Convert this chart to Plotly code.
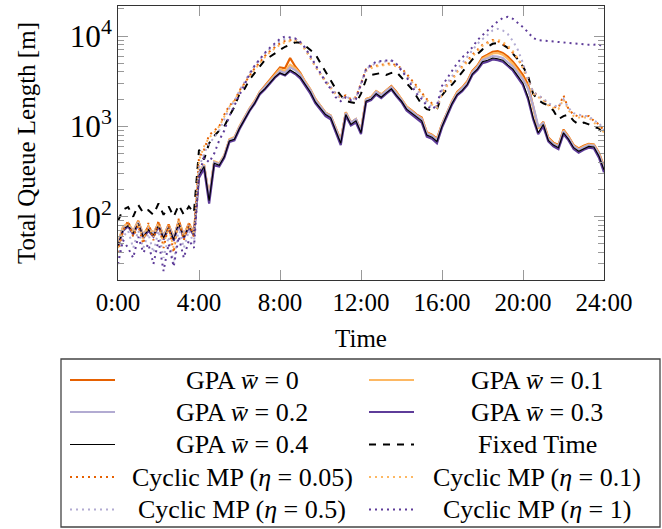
import plotly.graph_objects as go

# ---------------- data (15-minute samples, 0:00 .. 24:00) ----------------
hours = [i * 0.25 for i in range(97)]
tick_hours = [0, 4, 8, 12, 16, 20, 24]
tick_labels = ["0:00", "4:00", "8:00", "12:00", "16:00", "20:00", "24:00"]

gpa_00 = [50, 76, 85, 68, 90, 62, 78, 64, 86, 60, 82, 58, 90, 62, 84, 66,
          300, 370, 160, 400, 380, 470, 710, 750, 990, 1250, 1570, 1900, 2400, 2800, 3300, 3800,
          4500, 4400, 5700, 4600, 3900, 3100, 2550, 2000, 1700, 1420, 1320, 950, 700, 1430, 1100, 1200,
          900, 2000, 2100, 2450, 2250, 2500, 2800, 2400, 2000, 1650, 1500, 1350, 1250, 860, 810, 730,
          1060, 1430, 1900, 2400, 2700, 3150, 4100, 4700, 5800, 6200, 6700, 6800, 6500, 5900, 5200, 4400,
          3700, 2900, 1700, 950, 1120, 750, 660, 620, 920, 770, 620, 570, 610, 640, 630, 510,
          360]
gpa_01 = [52, 78, 84, 70, 88, 64, 76, 66, 84, 62, 80, 60, 88, 64, 82, 68,
          310, 380, 165, 410, 390, 480, 720, 760, 1000, 1260, 1580, 1900, 2400, 2750, 3200, 3700,
          4300, 4100, 4800, 4400, 3800, 3100, 2550, 2000, 1700, 1420, 1320, 950, 700, 1420, 1100, 1200,
          900, 2000, 2100, 2450, 2250, 2500, 2750, 2350, 2000, 1650, 1480, 1320, 1220, 850, 800, 720,
          1050, 1420, 1900, 2350, 2650, 3100, 4000, 4600, 5600, 6000, 6400, 6500, 6200, 5600, 4900, 4100,
          3400, 2700, 1600, 950, 1100, 740, 650, 610, 900, 760, 610, 560, 600, 630, 620, 500,
          350]
gpa_02 = [50, 74, 82, 68, 86, 62, 74, 64, 82, 60, 78, 58, 86, 62, 80, 66,
          300, 370, 160, 400, 380, 470, 700, 740, 980, 1230, 1550, 1850, 2350, 2700, 3100, 3600,
          4100, 3900, 4500, 4200, 3700, 3000, 2500, 1950, 1650, 1400, 1300, 930, 680, 1400, 1100, 1200,
          880, 1950, 2050, 2400, 2200, 2450, 2700, 2300, 1950, 1600, 1450, 1300, 1200, 830, 790, 700,
          1030, 1400, 1850, 2300, 2600, 3000, 3900, 4500, 5400, 5700, 6000, 5900, 5700, 5100, 4600, 3900,
          3300, 2600, 1700, 1000, 1080, 720, 640, 600, 880, 740, 600, 550, 590, 620, 610, 490,
          340]
gpa_03 = [46, 70, 78, 64, 82, 58, 70, 60, 78, 56, 74, 54, 82, 58, 76, 62,
          270, 340, 140, 370, 360, 450, 670, 700, 930, 1180, 1480, 1780, 2250, 2550, 2950, 3450,
          3850, 3650, 4100, 3800, 3400, 2800, 2300, 1800, 1550, 1300, 1200, 870, 620, 1300, 1020, 1100,
          820, 1850, 1950, 2250, 2050, 2300, 2550, 2150, 1850, 1500, 1350, 1200, 1100, 770, 730, 650,
          970, 1300, 1750, 2200, 2450, 2850, 3700, 4200, 5000, 5200, 5500, 5400, 5200, 4650, 4150, 3450,
          2850, 2000, 1200, 820, 1000, 680, 600, 560, 820, 700, 560, 510, 550, 580, 570, 450,
          310]
gpa_04 = [48, 72, 80, 66, 84, 60, 72, 62, 80, 58, 76, 56, 84, 60, 78, 64,
          290, 360, 150, 390, 370, 460, 690, 720, 950, 1200, 1500, 1800, 2300, 2600, 3000, 3500,
          3900, 3700, 4200, 3900, 3500, 2900, 2400, 1850, 1600, 1350, 1250, 900, 650, 1350, 1050, 1150,
          850, 1900, 2000, 2300, 2100, 2350, 2600, 2200, 1900, 1550, 1400, 1250, 1150, 800, 760, 680,
          1000, 1350, 1800, 2250, 2500, 2900, 3800, 4300, 5200, 5400, 5700, 5600, 5400, 4800, 4300, 3600,
          3000, 2100, 1250, 850, 1050, 700, 620, 580, 850, 720, 580, 530, 570, 600, 590, 470,
          330]
fixed_time = [90, 120, 128, 100, 135, 110, 118, 105, 140, 105, 130, 100, 135, 105, 130, 110,
              550, 430, 650, 780, 900, 1000, 1300, 1650, 2300, 2600, 3300, 3900, 4600, 5400, 5900, 6500,
              7000, 7600, 8000, 8500, 8400, 7800, 7000, 6300, 5000, 4000, 3300, 2600, 2200, 1900, 1850, 1800,
              2300, 3300, 3700, 3800, 3900, 3700, 3900, 4000, 3500, 3000, 2600, 2100, 1750, 1550, 1500, 1550,
              2200, 2600, 2900, 3400, 4000, 4600, 5500, 6300, 7100, 7600, 8200, 8400, 8000, 7400, 6400, 5500,
              4600, 3600, 2300, 1950, 1800, 1700, 1500, 1200, 1300, 1350, 1150, 1050, 1100, 1050, 980, 950,
              800]
cmp_005 = [40, 70, 90, 60, 80, 50, 85, 55, 90, 45, 80, 40, 95, 55, 85, 60,
           450, 550, 800, 900, 1000, 1350, 1700, 1900, 2500, 3000, 3700, 4400, 5100, 6000, 6800, 7500,
           8300, 8800, 9000, 9200, 8500, 7200, 5800, 4600, 3800, 3200, 2700, 2300, 2100, 2200, 2000, 2100,
           3000, 4300, 4600, 4700, 4800, 4900, 5000, 4700, 4400, 3800, 3300, 2800, 2350, 2000, 1800, 1650,
           2300, 2900, 3300, 4100, 4600, 5400, 6200, 7000, 8000, 8500, 9000, 8800, 8200, 7600, 6500, 5600,
           4500, 3200, 2400, 2200, 2000, 1750, 1650, 1600, 2200, 1550, 1350, 1280, 1280, 1300, 1150, 1050,
           900]
cmp_01 = [45, 75, 85, 65, 85, 55, 80, 60, 85, 50, 75, 45, 90, 60, 80, 65,
          420, 600, 750, 850, 1000, 1300, 1650, 1950, 2450, 3000, 3600, 4300, 5000, 5800, 6600, 7300,
          8000, 8500, 8800, 8900, 8300, 7000, 5700, 4500, 3700, 3100, 2600, 2250, 2050, 2100, 1950, 2050,
          2900, 4100, 4400, 4600, 4700, 4800, 4800, 4600, 4300, 3700, 3200, 2700, 2300, 1950, 1750, 1600,
          2250, 2800, 3200, 4000, 4500, 5200, 6000, 6800, 7800, 8300, 8800, 9100, 8600, 7800, 6800, 5600,
          4400, 3100, 2300, 2100, 1950, 1700, 1600, 1550, 2000, 1500, 1300, 1250, 1250, 1250, 1100, 1000,
          850]
cmp_05 = [35, 60, 70, 45, 70, 45, 65, 40, 70, 35, 60, 30, 75, 45, 70, 50,
          350, 500, 650, 750, 900, 1200, 1600, 1900, 2500, 3100, 3900, 4700, 5500, 6400, 7200, 8000,
          8800, 9300, 9500, 9300, 8600, 7300, 5900, 4700, 3800, 3200, 2700, 2300, 2000, 2150, 2000, 2050,
          3000, 4300, 4700, 5000, 5200, 5300, 5300, 4900, 4300, 3600, 3000, 2500, 2150, 1850, 1650, 1650,
          2500, 3000, 3600, 4300, 5000, 5900, 7000, 8200, 9200, 10200, 11500, 12000, 11500, 10500, 8800, 7000,
          5000, 3300, 2400, 2200, 2050, 1800, 1700, 1650, 2000, 1600, 1400, 1350, 1300, 1300, 1150, 1100,
          900]
cmp_1 = [30, 55, 45, 35, 60, 40, 50, 30, 55, 25, 50, 28, 60, 35, 55, 45,
         300, 450, 400, 500, 700, 900, 1300, 1700, 2300, 3000, 3800, 4700, 5600, 6500, 7400, 8300,
         9300, 9900, 9700, 9400, 8600, 7400, 6000, 4800, 3800, 3100, 2600, 2100, 1900, 2100, 1950, 2000,
         2900, 4300, 4800, 5200, 5300, 5400, 5400, 4900, 4200, 3500, 2800, 2300, 2000, 1700, 1550, 1700,
         2800, 3400, 4200, 5000, 5800, 6500, 7500, 9000, 10200, 11500, 13000, 14500, 15800, 16300, 15500, 14000,
         12500, 11000, 9500, 9000, 8900, 8800, 8700, 8600, 8500, 8400, 8200, 8100, 8100, 8000, 8000, 8100,
         7500]

ORANGE_D = "#e66101"
ORANGE_L = "#fdb863"
PURPLE_L = "#b2abd2"
PURPLE_D = "#5e3c99"

series = [
    ("GPA <i>w̄</i> = 0", gpa_00, ORANGE_D, "solid", 2.2),
    ("GPA <i>w̄</i> = 0.1", gpa_01, ORANGE_L, "solid", 2.2),
    ("GPA <i>w̄</i> = 0.2", gpa_02, PURPLE_L, "solid", 2.2),
    ("GPA <i>w̄</i> = 0.3", gpa_03, PURPLE_D, "solid", 2.2),
    ("GPA <i>w̄</i> = 0.4", gpa_04, "#000000", "solid", 1.1),
    ("Fixed Time", fixed_time, "#000000", "7px,7px", 2.0),
    ("Cyclic MP (<i>η</i> = 0.05)", cmp_005, ORANGE_D, "2px,4px", 2.0),
    ("Cyclic MP (<i>η</i> = 0.1)", cmp_01, ORANGE_L, "2px,4px", 2.0),
    ("Cyclic MP (<i>η</i> = 0.5)", cmp_05, PURPLE_L, "2px,4px", 2.0),
    ("Cyclic MP (<i>η</i> = 1)", cmp_1, PURPLE_D, "2px,4px", 2.0),
]

FONT = "'Liberation Serif', 'Times New Roman', Times, 'DejaVu Serif', serif"
W, H = 662, 529
ML, MR, MT, MB = 118, 58, 6, 249
PW, PH = W - ML - MR, H - MT - MB

fig = go.Figure()
for name, vals, color, dash, width in series:
    fig.add_trace(go.Scatter(
        x=hours, y=vals, name=name, mode="lines",
        line=dict(color=color, dash=dash, width=width),
        showlegend=False,
    ))

# ---------------- manual legend (centered text like the reference) ----------------
def px(xp):
    return (xp - ML) / PW

def py(yp):
    return (H - MB - yp) / PH

shapes = [dict(type="rect", xref="paper", yref="paper",
               x0=px(61), x1=px(660), y0=py(527), y1=py(359),
               line=dict(color="#444", width=1.3), fillcolor="rgba(0,0,0,0)")]
annotations = []
row_y = [380, 412, 444.5, 477, 509.5]
col_sample = [(70, 115), (369, 414)]
col_text = [242, 537]
for i, (name, vals, color, dash, width) in enumerate(series):
    r, c = divmod(i, 2)
    y = row_y[r]
    shapes.append(dict(type="line", xref="paper", yref="paper",
                       x0=px(col_sample[c][0]), x1=px(col_sample[c][1]),
                       y0=py(y), y1=py(y),
                       line=dict(color=color, dash=dash, width=width)))
    annotations.append(dict(xref="paper", yref="paper", x=px(col_text[c]), y=py(y),
                            text=name, showarrow=False, xanchor="center", yanchor="middle",
                            font=dict(family=FONT, size=26, color="#000")))

fig.update_layout(
    width=W, height=H,
    margin=dict(l=ML, r=MR, t=MT, b=MB, pad=0),
    paper_bgcolor="white", plot_bgcolor="white",
    font=dict(family=FONT, size=25, color="#000"),
    shapes=shapes, annotations=annotations,
    showlegend=False,
)
fig.update_xaxes(
    range=[0, 24], tickmode="array", tickvals=tick_hours, ticktext=tick_labels,
    ticks="inside", ticklen=10, tickcolor="#999", tickwidth=1,
    showline=True, linecolor="#333", linewidth=1.3, mirror="allticks",
    showgrid=False, zeroline=False,
    tickfont=dict(family=FONT, size=25, color="#000"),
    title=dict(text="Time", standoff=14, font=dict(family=FONT, size=25, color="#000")),
)
fig.update_yaxes(
    type="log", range=[1.2994, 4.332], dtick=1,
    exponentformat="power", showexponent="all",
    ticks="inside", ticklen=10, tickcolor="#999", tickwidth=1,
    minor=dict(ticks="inside", ticklen=6, tickcolor="#999", dtick="D1", showgrid=False),
    showline=True, linecolor="#333", linewidth=1.3, mirror="allticks",
    showgrid=False, zeroline=False,
    tickfont=dict(family=FONT, size=25, color="#000"),
    title=dict(text="Total Queue Length [m]", standoff=26, font=dict(family=FONT, size=25, color="#000")),
)

fig.write_html("out.html", config={"displayModeBar": False},
               post_script="document.body.style.margin='0';")
